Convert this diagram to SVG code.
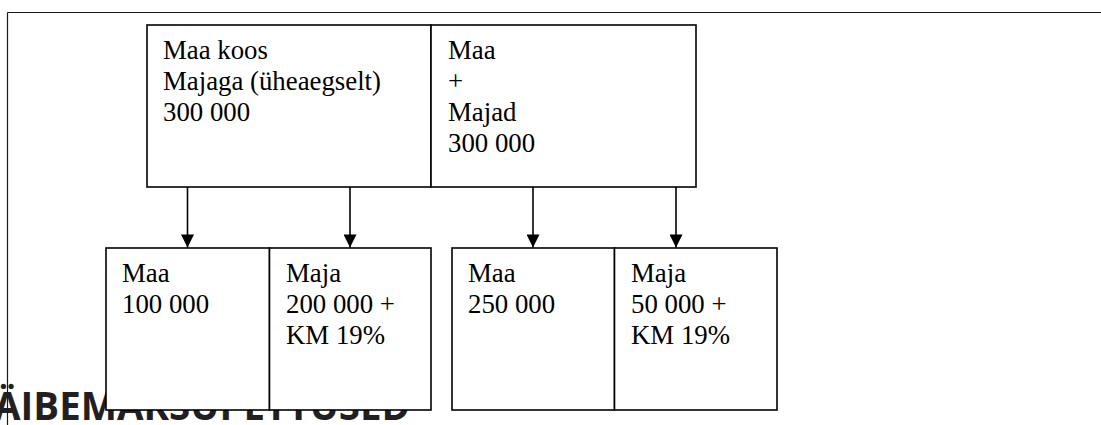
<svg xmlns="http://www.w3.org/2000/svg" width="1101" height="425" viewBox="0 0 1101 425">
  <style>
    .frame { stroke: #1a1a1a; stroke-width: 1.2; fill: none; }
    .box { fill: #ffffff; stroke: #000000; stroke-width: 1.6; }
    .div { stroke: #000000; stroke-width: 1.6; }
    .lbl { font-family: "Liberation Serif", "Times New Roman", serif; font-size: 26.8px; fill: #000000; }
    .head { font-family: "Open Sans", "Liberation Sans", sans-serif; font-weight: bold; font-size: 39px; fill: #231f20; }
    .conn { stroke: #000000; stroke-width: 1.6; fill: none; marker-end: url(#arrow); }
  </style>
  <defs>
    <marker id="arrow" markerWidth="14" markerHeight="13" refX="14" refY="7" orient="auto" markerUnits="userSpaceOnUse" viewBox="0 0 14 14">
      <path d="M0,0 L14,7 L0,14 Z" fill="#000000"/>
    </marker>
  </defs>

  <rect width="1101" height="425" fill="#ffffff"/>

  <!-- page frame -->
  <g id="frame">
    <line class="frame" x1="7.5" y1="12.5" x2="1101" y2="12.5"/>
    <line class="frame" x1="7.5" y1="12.5" x2="7.5" y2="425"/>
  </g>

  <!-- section heading, partly covered by the boxes -->
  <text id="heading" class="head" x="-6" y="420" textLength="416" lengthAdjust="spacingAndGlyphs">ÄIBEMAKSUPETTUSED</text>

  <!-- top: sale of land with buildings -->
  <g id="top-together">
    <rect class="box" x="147" y="25" width="284" height="162"/>
    <text class="lbl" x="163" y="59">Maa koos</text>
    <text class="lbl" x="163" y="90">Majaga (üheaegselt)</text>
    <text class="lbl" x="163" y="121">300 000</text>
  </g>
  <g id="top-separate">
    <rect class="box" x="431" y="25" width="265" height="162"/>
    <text class="lbl" x="448" y="59">Maa</text>
    <text class="lbl" x="448" y="90">+</text>
    <text class="lbl" x="448" y="121">Majad</text>
    <text class="lbl" x="448" y="152">300 000</text>
  </g>

  <!-- bottom left pair -->
  <g id="left-land">
    <rect class="box" x="106" y="248" width="163.5" height="162"/>
    <text class="lbl" x="122" y="282">Maa</text>
    <text class="lbl" x="122" y="313">100 000</text>
  </g>
  <g id="left-house">
    <rect class="box" x="269.5" y="248" width="161.5" height="162"/>
    <text class="lbl" x="286" y="282">Maja</text>
    <text class="lbl" x="286" y="313">200 000 +</text>
    <text class="lbl" x="286" y="344">KM 19%</text>
  </g>

  <!-- bottom right pair -->
  <g id="right-land">
    <rect class="box" x="452" y="248" width="162.5" height="162"/>
    <text class="lbl" x="468" y="282">Maa</text>
    <text class="lbl" x="468" y="313">250 000</text>
  </g>
  <g id="right-house">
    <rect class="box" x="614.5" y="248" width="162.5" height="162"/>
    <text class="lbl" x="631" y="282">Maja</text>
    <text class="lbl" x="631" y="313">50 000 +</text>
    <text class="lbl" x="631" y="344">KM 19%</text>
  </g>

  <!-- connectors -->
  <g id="connectors">
    <line class="conn" x1="187.5" y1="187" x2="187.5" y2="247.5"/>
    <line class="conn" x1="350" y1="187" x2="350" y2="247.5"/>
    <line class="conn" x1="533" y1="187" x2="533" y2="247.5"/>
    <line class="conn" x1="676" y1="187" x2="676" y2="247.5"/>
  </g>
</svg>
